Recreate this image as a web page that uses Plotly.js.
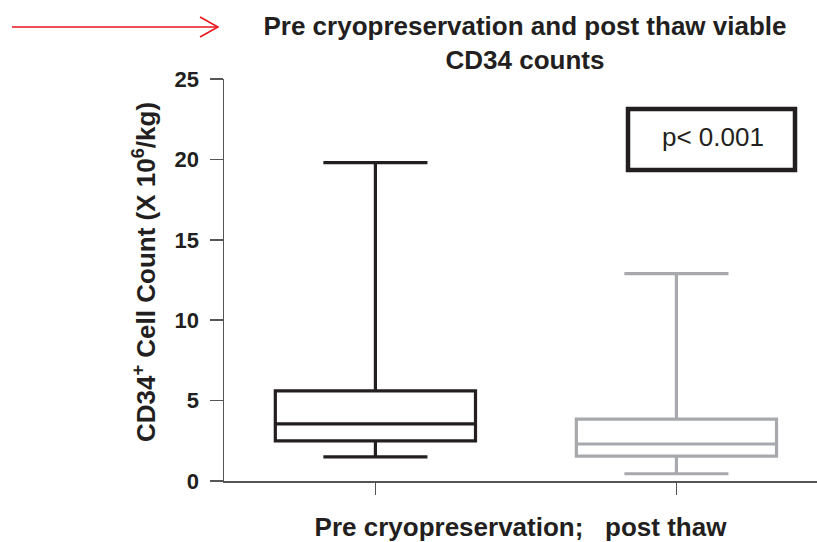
<!DOCTYPE html>
<html>
<head>
<meta charset="utf-8">
<script src="https://cdn.plot.ly/plotly-3.0.1.min.js"></script>
<style>
  html, body { margin: 0; padding: 0; background: #fff; }
  #chart { width: 817px; height: 542px; }
</style>
</head>
<body>
<div id="chart"></div>
<script>
// Viable CD34+ cell counts (x10^6/kg), summary statistics per group
const categories = ['Pre cryopreservation', 'post thaw'];
const lowerWhisker = [1.5, 0.45];
const q1 = [2.5, 1.55];
const median = [3.55, 2.3];
const q3 = [5.6, 3.85];
const upperWhisker = [19.8, 12.9];
const boxColors = ['#231f20', '#a7a9ac'];

const FONT = 'Liberation Sans, Arial, sans-serif';
const INK = '#231f20';

// plot area in pixels (used to place the decorations in paper units)
const L = 224, T = 79, W = 593, H = 402;
const px = x => (x - L) / W;
const py = y => (T + H - y) / H;

const traces = categories.map((c, i) => ({
  type: 'box',
  name: c,
  x: [c],
  q1: [q1[i]],
  median: [median[i]],
  q3: [q3[i]],
  lowerfence: [lowerWhisker[i]],
  upperfence: [upperWhisker[i]],
  boxpoints: false,
  width: 0.665,
  whiskerwidth: 0.52,
  line: { color: boxColors[i], width: 3.2 },
  fillcolor: 'rgba(255,255,255,0)',
  hoverinfo: 'skip'
}));

const layout = {
  width: 817,
  height: 542,
  margin: { l: L, r: 817 - L - W, t: T, b: 542 - T - H },
  paper_bgcolor: '#fff',
  plot_bgcolor: '#fff',
  showlegend: false,
  font: { family: FONT, color: INK },
  title: {
    text: '<b>Pre cryopreservation and post thaw viable<br>CD34 counts</b>',
    font: { family: FONT, size: 26, color: INK, lineposition: 'none' },
    xref: 'container', yref: 'container',
    x: 525 / 817, xanchor: 'center',
    y: 1 - 35 / 542, yanchor: 'middle'
  },
  xaxis: {
    type: 'category',
    categoryarray: categories,
    range: [-0.503, 1.467],
    showline: true,
    linecolor: '#555',
    linewidth: 1.5,
    ticks: 'outside',
    ticklen: 12,
    tickwidth: 1.5,
    tickcolor: '#555',
    showticklabels: false,
    showgrid: false,
    zeroline: false,
    fixedrange: true,
    title: {
      text: '<b>Pre cryopreservation;\u00a0\u00a0\u00a0post thaw</b>',
      font: { family: FONT, size: 26, color: INK },
      standoff: 24
    }
  },
  yaxis: {
    range: [0, 25],
    tickvals: [0, 5, 10, 15, 20, 25],
    ticktext: ['<b>0</b>', '<b>5</b>', '<b>10</b>', '<b>15</b>', '<b>20</b>', '<b>25</b>'],
    showline: true,
    linecolor: '#555',
    linewidth: 1.5,
    ticks: 'outside',
    ticklen: 13,
    tickwidth: 1.5,
    tickcolor: '#555',
    ticklabelstandoff: 6,
    tickfont: { family: FONT, size: 22, color: INK },
    showgrid: false,
    zeroline: false,
    fixedrange: true
  },
  shapes: [
    // red pointer arrow beside the title
    { type: 'line', xref: 'paper', yref: 'paper',
      x0: px(12), y0: py(27), x1: px(217), y1: py(27),
      line: { color: '#e8141c', width: 1.5 } },
    { type: 'path', xref: 'paper', yref: 'paper',
      path: `M${px(200)},${py(17)} L${px(218)},${py(27)} L${px(200)},${py(37)}`,
      line: { color: '#e8141c', width: 1.5 } },
    // frame around the significance label
    { type: 'rect', xref: 'paper', yref: 'paper',
      x0: px(628), x1: px(795), y0: py(170), y1: py(109),
      line: { color: INK, width: 4.5 } }
  ],
  annotations: [
    { text: 'p< 0.001', xref: 'paper', yref: 'paper',
      x: px(713), y: py(137), xanchor: 'center', yanchor: 'middle',
      showarrow: false, font: { family: FONT, size: 26, color: INK } },
    { text: '<b>CD34<sup>+</sup> Cell Count (X 10<sup>6</sup>/kg)</b>',
      xref: 'paper', yref: 'paper',
      x: px(144), y: py(272), xanchor: 'center', yanchor: 'middle',
      textangle: -90, showarrow: false,
      font: { family: FONT, size: 26, color: INK } }
  ]
};

Plotly.newPlot('chart', traces, layout, { displayModeBar: false, staticPlot: true });
</script>
</body>
</html>
